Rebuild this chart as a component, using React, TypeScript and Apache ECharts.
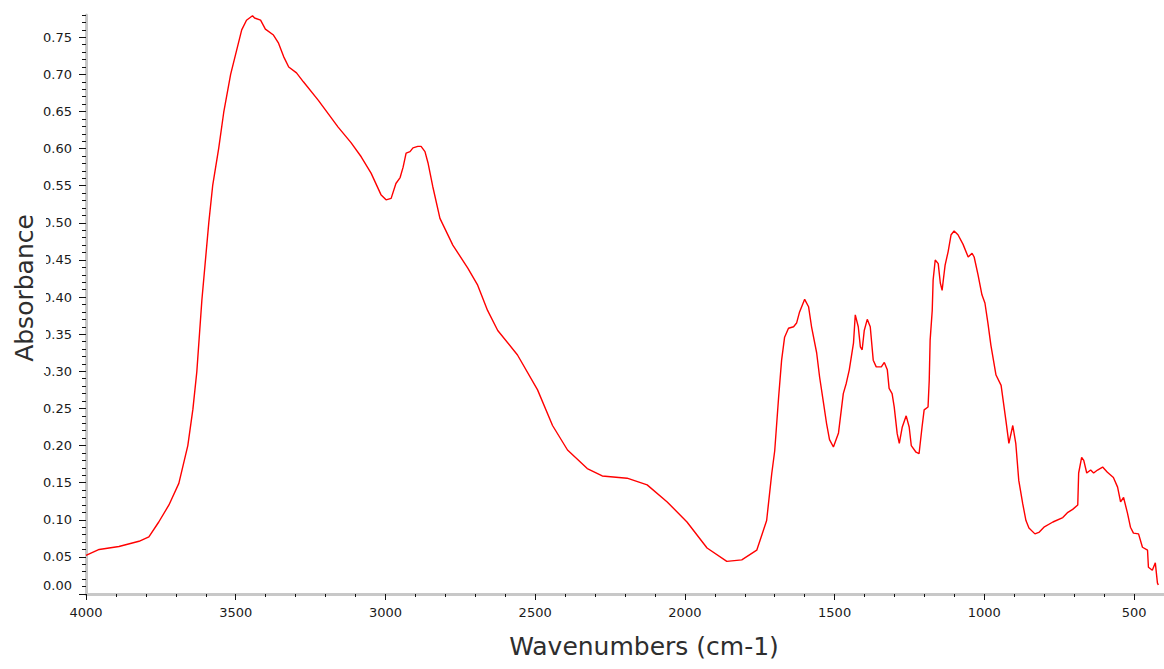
import React, { useEffect, useRef } from "react";
import * as echarts from "echarts";

const wavenumbers = [
  4000, 3956, 3890, 3823, 3790, 3757, 3723, 3690, 3660, 3643, 3630, 3613, 3590, 3577, 3557, 3540, 3517, 3480,
  3464, 3444, 3437, 3417, 3401, 3374, 3357, 3340, 3323, 3297, 3274, 3224, 3158, 3115, 3081, 3048, 3015, 2998,
  2981, 2965, 2951, 2941, 2931, 2918, 2908, 2892, 2881, 2868, 2858, 2842, 2818, 2775, 2725, 2692, 2659, 2625,
  2559, 2492, 2442, 2392, 2326, 2276, 2193, 2126, 2059, 1993, 1926, 1860, 1810, 1760, 1727, 1710, 1700, 1687,
  1677, 1667, 1654, 1637, 1627, 1617, 1600, 1587, 1577, 1560, 1550, 1537, 1527, 1517, 1504, 1487, 1471, 1461,
  1451, 1437, 1431, 1421, 1414, 1408, 1401, 1391, 1381, 1371, 1361, 1344, 1334, 1324, 1318, 1308, 1301, 1291,
  1284, 1274, 1261, 1251, 1244, 1228, 1218, 1208, 1201, 1188, 1184, 1181, 1174, 1171, 1164, 1154, 1147, 1141,
  1137, 1131, 1121, 1111, 1101, 1088, 1071, 1054, 1041, 1034, 1021, 1008, 998, 988, 978, 961, 944, 928, 918,
  905, 895, 885, 872, 861, 851, 831, 818, 801, 771, 738, 721, 705, 688, 685, 675, 668, 658, 645, 635, 622, 605,
  589, 569, 555, 545, 535, 522, 512, 502, 485, 472, 455, 452, 439, 429, 422, 419,
];

const absorbance = [
  0.052, 0.06, 0.064, 0.071, 0.077, 0.097, 0.12, 0.149, 0.2, 0.249, 0.299, 0.396, 0.5, 0.55, 0.6, 0.649, 0.7,
  0.76, 0.773, 0.779, 0.776, 0.773, 0.761, 0.753, 0.742, 0.724, 0.71, 0.702, 0.69, 0.665, 0.629, 0.608, 0.589,
  0.567, 0.538, 0.531, 0.533, 0.553, 0.561, 0.575, 0.594, 0.596, 0.601, 0.603, 0.603, 0.596, 0.581, 0.549,
  0.506, 0.47, 0.439, 0.416, 0.382, 0.355, 0.322, 0.275, 0.227, 0.194, 0.169, 0.159, 0.156, 0.147, 0.124,
  0.097, 0.062, 0.044, 0.046, 0.059, 0.099, 0.162, 0.193, 0.265, 0.315, 0.346, 0.358, 0.36, 0.365, 0.38,
  0.397, 0.387, 0.36, 0.325, 0.292, 0.257, 0.23, 0.208, 0.198, 0.217, 0.27, 0.284, 0.302, 0.338, 0.376, 0.36,
  0.333, 0.329, 0.355, 0.37, 0.36, 0.315, 0.306, 0.306, 0.312, 0.302, 0.277, 0.27, 0.252, 0.216, 0.203, 0.225,
  0.24, 0.225, 0.2, 0.191, 0.189, 0.225, 0.248, 0.252, 0.288, 0.342, 0.382, 0.423, 0.45, 0.445, 0.419, 0.409,
  0.423, 0.443, 0.461, 0.484, 0.489, 0.484, 0.471, 0.454, 0.459, 0.454, 0.43, 0.403, 0.392, 0.365, 0.335,
  0.295, 0.281, 0.234, 0.203, 0.227, 0.203, 0.153, 0.122, 0.099, 0.089, 0.081, 0.083, 0.09, 0.097, 0.103, 0.11,
  0.114, 0.12, 0.163, 0.184, 0.18, 0.163, 0.167, 0.163, 0.167, 0.171, 0.164, 0.157, 0.144, 0.124, 0.13, 0.109,
  0.09, 0.082, 0.081, 0.063, 0.059, 0.036, 0.032, 0.042, 0.015, 0.012,
];

const xMajorTicks = [4000, 3500, 3000, 2500, 2000, 1500, 1000, 500];
const yMajorTicks = [0, 0.05, 0.1, 0.15, 0.2, 0.25, 0.3, 0.35, 0.4, 0.45, 0.5, 0.55, 0.6, 0.65, 0.7, 0.75];

const xMinorTicks: number[] = [];
for (let v = 500; v <= 4000; v += 100) xMinorTicks.push(v);
const yMinorTicks: number[] = [];
for (let i = 0; i <= 78; i++) yMinorTicks.push(Math.round(i) / 100);

export default function App() {
  const ref = useRef<HTMLDivElement>(null);
  useEffect(() => {
    if (!ref.current) return;
    const chart = echarts.init(ref.current, undefined, { renderer: "svg" });
    const axisLineStyle = { color: "#c8c8c8", width: 3 };
    const tickStyle = { color: "#111", width: 1 };
    const labelFont = { fontFamily: "DejaVu Sans", fontSize: 13, color: "#1a1a1a" };
    chart.setOption({
      animation: false,
      backgroundColor: "#ffffff",
      grid: { left: 86, right: -5, top: 15, bottom: 75, containLabel: false },
      xAxis: [
        {
          type: "value",
          inverse: true,
          min: 400,
          max: 4000,
          position: "bottom",
          name: "Wavenumbers (cm-1)",
          nameLocation: "middle",
          nameGap: 40,
          nameTextStyle: {
            fontFamily: "DejaVu Sans",
            fontSize: 25,
            color: "#2e2e2e",
            padding: [0, 0, 0, 38],
          },
          axisLine: { show: true, lineStyle: axisLineStyle },
          axisTick: { show: true, customValues: xMajorTicks, length: 6, lineStyle: tickStyle },
          axisLabel: {
            show: true,
            customValues: xMajorTicks,
            margin: 12,
            ...labelFont,
            formatter: (v: number) => String(v),
          },
          splitLine: { show: false },
        },
        {
          type: "value",
          inverse: true,
          min: 400,
          max: 4000,
          position: "bottom",
          axisLine: { show: false },
          axisTick: { show: true, customValues: xMinorTicks, length: 3, lineStyle: tickStyle },
          axisLabel: { show: false },
          splitLine: { show: false },
        },
      ],
      yAxis: [
        {
          type: "value",
          min: 0,
          max: 0.78,
          position: "left",
          axisLine: { show: true, lineStyle: axisLineStyle },
          axisTick: { show: true, customValues: yMajorTicks, length: 7, lineStyle: tickStyle },
          axisLabel: {
            show: true,
            customValues: yMajorTicks,
            margin: 14,
            ...labelFont,
            formatter: (v: number) => (v === 0 ? "{z|0.00}" : v.toFixed(2)),
            rich: {
              z: { fontFamily: "DejaVu Sans", fontSize: 13, color: "#1a1a1a", padding: [0, 0, 17, 0] },
            },
          },
          splitLine: { show: false },
        },
        {
          type: "value",
          min: 0,
          max: 0.78,
          position: "left",
          axisLine: { show: false },
          axisTick: { show: true, customValues: yMinorTicks, length: 4, lineStyle: tickStyle },
          axisLabel: { show: false },
          splitLine: { show: false },
        },
      ],
      graphic: [
        {
          type: "rect",
          z: 100,
          shape: { x: 0, y: 193, width: 46, height: 180 },
          style: { fill: "#ffffff" },
        },
        {
          type: "text",
          z: 101,
          x: 24,
          y: 288,
          rotation: Math.PI / 2,
          style: {
            text: "Absorbance",
            font: "25px 'DejaVu Sans'",
            fill: "#2e2e2e",
            align: "center",
            verticalAlign: "middle",
          },
        },
      ],
      series: [
        {
          type: "line",
          xAxisIndex: 0,
          yAxisIndex: 0,
          data: wavenumbers.map((w, i) => [w, absorbance[i]]),
          showSymbol: false,
          symbol: "none",
          smooth: false,
          lineStyle: { color: "#ff0000", width: 1.4 },
          itemStyle: { color: "#ff0000" },
          clip: true,
        },
      ],
    });
    return () => chart.dispose();
  }, []);
  return (
    <div
      ref={ref}
      style={{ position: "absolute", left: 0, top: 0, width: 1164, height: 669 }}
    />
  );
}
